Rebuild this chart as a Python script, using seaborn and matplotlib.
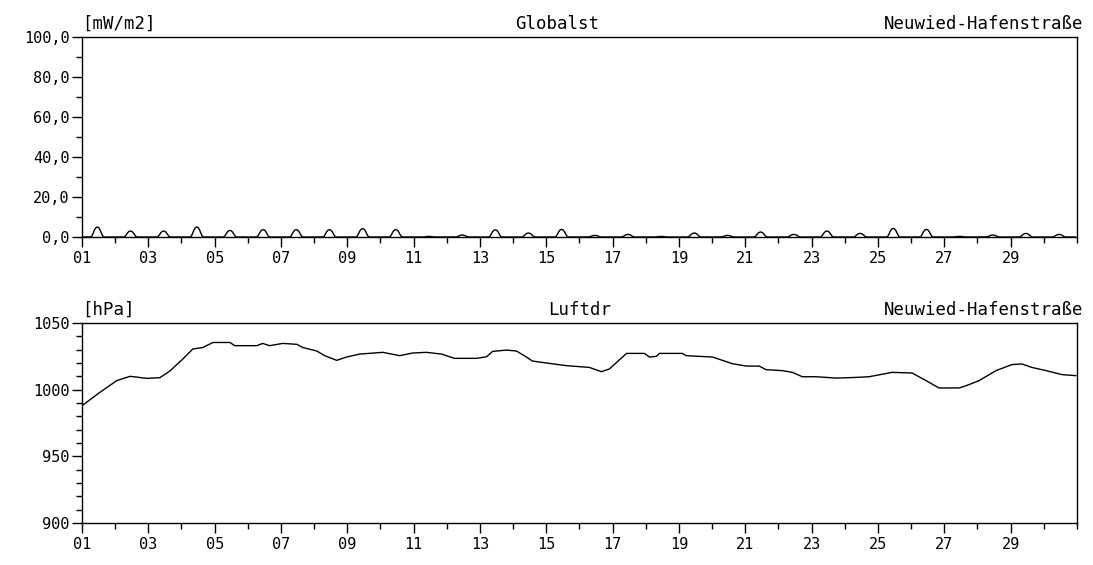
"""
Monthly station plot: global radiation and air pressure, Neuwied-Hafenstraße.
"""

import numpy as np
import pandas as pd
import matplotlib
matplotlib.use("Agg")
import matplotlib.pyplot as plt
from matplotlib.ticker import MultipleLocator, FixedLocator, FuncFormatter
import seaborn as sns

# ── data ─────────────────────────────────────────────────────────────────────
STATION = "Neuwied-Hafenstraße"
DAYS = list(range(1, 31))
RAD_PEAK = [5.0, 3.0, 3.0, 5.0, 3.3, 3.7, 3.7, 3.7, 4.2, 3.7,
            0.3, 1.0, 3.6, 2.0, 3.8, 0.8, 1.3, 0.3, 2.0, 0.8,
            2.5, 1.3, 3.0, 1.8, 4.3, 3.8, 0.3, 1.0, 1.8, 1.3]
# relative daily course of the radiation, hour 0..23
HOUR_PROFILE = [0, 0, 0, 0, 0, 0, 0, 0.05, 0.35, 0.7, 0.92, 1.0,
                0.95, 0.75, 0.4, 0.1, 0, 0, 0, 0, 0, 0, 0, 0]
X_TICKS = list(range(1, 31, 2))

PRESS_DAY = [1.00, 1.54, 2.05, 2.45, 2.96, 3.35, 3.65, 4.04, 4.34, 4.64,
             4.95, 5.46, 5.61, 6.27, 6.45, 6.66, 7.05, 7.48, 7.66, 8.08,
             8.32, 8.68, 8.98, 9.37, 10.07, 10.58, 10.97, 11.39, 11.84, 12.23,
             12.90, 13.20, 13.38, 13.80, 14.10, 14.40, 14.58, 14.80, 15.61, 16.30,
             16.66, 16.90, 17.42, 17.96, 18.11, 18.32, 18.41, 19.10, 19.22, 20.01,
             20.31, 20.61, 21.03, 21.42, 21.63, 22.11, 22.42, 22.72, 23.14, 23.74,
             24.34, 24.73, 25.43, 26.03, 26.45, 26.84, 27.45, 27.66, 28.05, 28.56,
             29.04, 29.34, 29.64, 30.07, 30.55, 30.97]
PRESS_HPA = [988.0, 998.0, 1006.8, 1010.0, 1008.5, 1009.0, 1014.0, 1023.0, 1030.5, 1031.6,
             1035.4, 1035.4, 1033.0, 1033.0, 1034.7, 1033.0, 1034.7, 1034.0, 1031.6, 1029.0,
             1025.5, 1022.0, 1024.5, 1026.7, 1028.0, 1025.5, 1027.5, 1028.0, 1026.7, 1023.5,
             1023.5, 1024.7, 1028.7, 1029.7, 1029.0, 1024.5, 1021.5, 1020.7, 1018.0, 1016.7,
             1013.5, 1015.5, 1027.2, 1027.2, 1024.5, 1025.0, 1027.2, 1027.2, 1025.5, 1024.5,
             1022.0, 1019.5, 1017.7, 1017.7, 1015.0, 1014.3, 1013.0, 1009.7, 1009.7, 1008.7,
             1009.2, 1009.7, 1013.0, 1012.5, 1006.8, 1001.3, 1001.3, 1003.0, 1006.8, 1014.3,
             1018.8, 1019.3, 1016.7, 1014.3, 1011.3, 1010.5]

# ── style ────────────────────────────────────────────────────────────────────
sns.set_style("ticks")
plt.rcParams.update({
    "font.family":      ["DejaVu Sans Mono"],
    "text.color":       "black",
    "axes.edgecolor":   "black",
    "axes.linewidth":   1.0,
    "xtick.color":      "black",
    "ytick.color":      "black",
    "xtick.labelcolor": "black",
    "ytick.labelcolor": "black",
    "xtick.direction":  "out",
    "ytick.direction":  "out",
})

FS_TICK = 11
FS_HEAD = 12.5


def comma(fmt):
    return FuncFormatter(lambda v, _: fmt.format(v).replace(".", ","))


def style_axis(ax, ymin, ymax, ymajor, yminor, yfmt):
    ax.set_xlim(1, 31)
    ax.set_ylim(ymin, ymax)
    ax.xaxis.set_major_locator(FixedLocator(X_TICKS))
    ax.xaxis.set_minor_locator(MultipleLocator(1))
    ax.xaxis.set_major_formatter(FuncFormatter(lambda v, _: f"{int(round(v)):02d}"))
    ax.yaxis.set_major_locator(MultipleLocator(ymajor))
    ax.yaxis.set_minor_locator(MultipleLocator(yminor))
    ax.yaxis.set_major_formatter(comma(yfmt))
    ax.tick_params(which="major", length=7, width=1.0, labelsize=FS_TICK, pad=2)
    ax.tick_params(axis="x", which="major", pad=3)
    ax.tick_params(which="minor", length=4, width=1.0)
    for s in ax.spines.values():
        s.set_visible(True)
        s.set_color("black")
    ax.set_xlabel("")
    ax.set_ylabel("")
    ax.grid(False)


def header(ax, unit, name, name_x):
    ax.annotate(unit, xy=(0, 1), xycoords="axes fraction", xytext=(0, 3),
                textcoords="offset points", ha="left", va="bottom", fontsize=FS_HEAD)
    ax.annotate(name, xy=(name_x, 1), xycoords="axes fraction", xytext=(0, 3),
                textcoords="offset points", ha="center", va="bottom", fontsize=FS_HEAD)
    ax.annotate(STATION, xy=(1.006, 1), xycoords="axes fraction", xytext=(0, 3),
                textcoords="offset points", ha="right", va="bottom", fontsize=FS_HEAD)


# hourly radiation series from the daily peaks and the daily course
rad = pd.DataFrame(
    [(d + h / 24.0, p * f) for d, p in zip(DAYS, RAD_PEAK) for h, f in enumerate(HOUR_PROFILE)],
    columns=["day", "value"],
)
press = pd.DataFrame({"day": PRESS_DAY, "value": PRESS_HPA})

fig = plt.figure(figsize=(10.93, 5.65), dpi=100)
ax1 = fig.add_axes([0.075, 0.5805, 0.9103, 0.354])
ax2 = fig.add_axes([0.075, 0.0743, 0.9103, 0.354])

# ── 1. global radiation ──────────────────────────────────────────────────────
sns.lineplot(data=rad, x="day", y="value", ax=ax1, color="black", linewidth=1.0)
style_axis(ax1, 0, 100, 20, 10, "{:.1f}")
header(ax1, "[mW/m2]", "Globalst", 0.478)

# ── 2. air pressure ──────────────────────────────────────────────────────────
sns.lineplot(data=press, x="day", y="value", ax=ax2, color="black", linewidth=1.0)
style_axis(ax2, 900, 1050, 50, 10, "{:.0f}")
header(ax2, "[hPa]", "Luftdr", 0.5)

fig.savefig("out.png", dpi=100, facecolor="white")
plt.close(fig)
